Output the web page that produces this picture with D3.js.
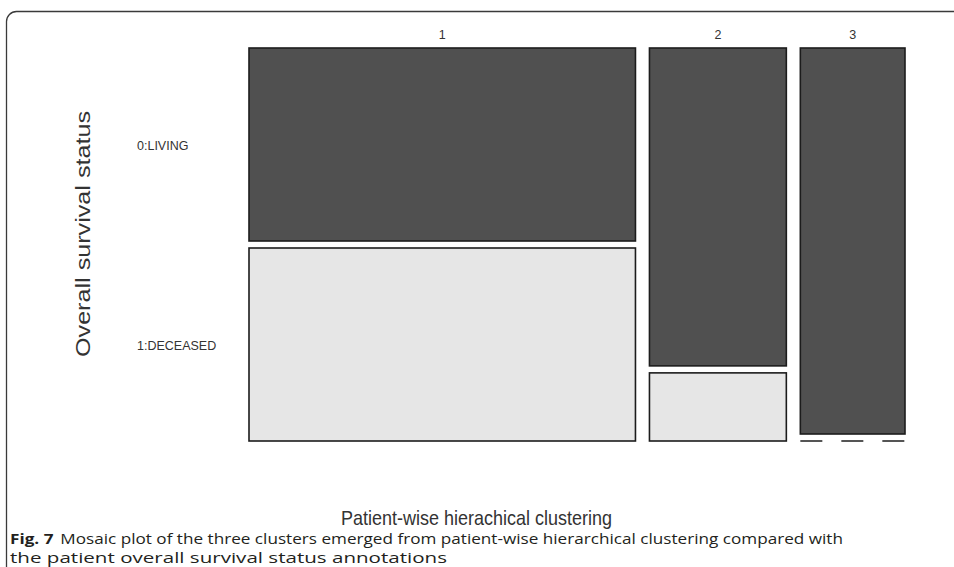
<!DOCTYPE html>
<html>
<head>
<meta charset="utf-8">
<script src="https://cdn.jsdelivr.net/npm/d3@7"></script>
<style>
  html, body { margin: 0; padding: 0; background: #fff; }
  svg { display: block; }
</style>
</head>
<body>
<svg id="chart" width="954" height="567"></svg>
<script>
// counts per cluster
const clusters = ['1', '2', '3']
const statuses = ['0:LIVING', '1:DECEASED']
const living = [24, 14, 13]
const deceased = [24, 3, 0]

const width = 954
const height = 567
const plot = { left: 249, top: 48, width: 656, height: 393 }
const gapX = 14
const gapY = 7

const darkFill = '#505050'
const lightFill = '#e6e6e6'

const svg = d3.select('#chart')

// frame round the figure
svg
  .append('rect')
  .attr('x', 6.5)
  .attr('y', 11.5)
  .attr('width', width + 20)
  .attr('height', height + 20)
  .attr('rx', 10)
  .attr('fill', 'none')
  .attr('stroke', '#3a3a3a')
  .attr('stroke-width', 1.3)

const totals = clusters.map((c, i) => living[i] + deceased[i])
const grand = d3.sum(totals)
const cum = d3.cumsum([0, ...totals])

const x = d3
  .scaleLinear()
  .domain([0, grand])
  .range([0, plot.width - gapX * (clusters.length - 1)])

const y = d3
  .scaleLinear()
  .domain([0, 1])
  .range([0, plot.height - gapY])

const cells = []
clusters.forEach((c, i) => {
  const x0 = plot.left + x(cum[i]) + i * gapX
  const w = x(totals[i])
  const pLiving = living[i] / totals[i]
  const pDeceased = deceased[i] / totals[i]
  cells.push({ cluster: c, status: statuses[0], x: x0, w, y: plot.top, h: y(pLiving), n: living[i] })
  cells.push({
    cluster: c,
    status: statuses[1],
    x: x0,
    w,
    y: plot.top + y(pLiving) + gapY,
    h: y(pDeceased),
    n: deceased[i],
  })
})

const g = svg.append('g').attr('id', 'viz')

g.selectAll('rect.cell')
  .data(cells.filter((d) => d.n > 0))
  .join('rect')
  .attr('class', 'cell')
  .attr('x', (d) => d.x)
  .attr('y', (d) => d.y)
  .attr('width', (d) => d.w)
  .attr('height', (d) => d.h)
  .attr('fill', (d) => (d.status === statuses[0] ? darkFill : lightFill))
  .attr('stroke', '#1c1c1c')
  .attr('stroke-width', 1.6)

// empty cells are drawn as a dashed line, as R's mosaicplot does
g.selectAll('line.empty')
  .data(cells.filter((d) => d.n === 0))
  .join('line')
  .attr('class', 'empty')
  .attr('x1', (d) => d.x)
  .attr('x2', (d) => d.x + d.w)
  .attr('y1', (d) => d.y)
  .attr('y2', (d) => d.y)
  .attr('stroke', '#555')
  .attr('stroke-width', 2)
  .attr('stroke-dasharray', '22,19')

// cluster labels on top
g.selectAll('text.col')
  .data(cells.filter((d) => d.status === statuses[0]))
  .join('text')
  .attr('class', 'col')
  .attr('x', (d) => d.x + d.w / 2)
  .attr('y', plot.top - 9)
  .attr('text-anchor', 'middle')
  .style('font', '12.5px "Liberation Sans", Arial, sans-serif')
  .style('fill', '#333')
  .text((d) => d.cluster)

// status labels on the left, centred on the first column
g.selectAll('text.row')
  .data(cells.filter((d) => d.cluster === clusters[0]))
  .join('text')
  .attr('class', 'row')
  .attr('x', 137)
  .attr('y', (d) => d.y + d.h / 2 + 5)
  .style('font', '12.5px "Liberation Sans", Arial, sans-serif')
  .style('fill', '#333')
  .text((d) => d.status)

// axis titles
svg
  .append('text')
  .attr('transform', 'translate(90,234) rotate(-90)')
  .attr('text-anchor', 'middle')
  .attr('textLength', 246)
  .attr('lengthAdjust', 'spacingAndGlyphs')
  .style('font', '20px "Liberation Sans", Arial, sans-serif')
  .style('fill', '#333')
  .text('Overall survival status')

svg
  .append('text')
  .attr('x', 341)
  .attr('y', 525)
  .attr('textLength', 271)
  .attr('lengthAdjust', 'spacingAndGlyphs')
  .style('font', '21px "Liberation Sans", Arial, sans-serif')
  .style('fill', '#333')
  .text('Patient-wise hierachical clustering')

// caption
const caption = svg
  .append('text')
  .attr('x', 10)
  .attr('y', 544)
  .attr('textLength', 833)
  .attr('lengthAdjust', 'spacingAndGlyphs')
  .style('font', '15px "Open Sans", "Noto Sans", sans-serif')
  .style('fill', '#231f20')
caption.append('tspan').style('font-weight', 'bold').text('Fig. 7')
caption
  .append('tspan')
  .attr('dx', 6)
  .text('Mosaic plot of the three clusters emerged from patient-wise hierarchical clustering compared with')

svg
  .append('text')
  .attr('x', 10)
  .attr('y', 563)
  .attr('textLength', 437)
  .attr('lengthAdjust', 'spacingAndGlyphs')
  .style('font', '15px "Open Sans", "Noto Sans", sans-serif')
  .style('fill', '#231f20')
  .text('the patient overall survival status annotations')
</script>
</body>
</html>
